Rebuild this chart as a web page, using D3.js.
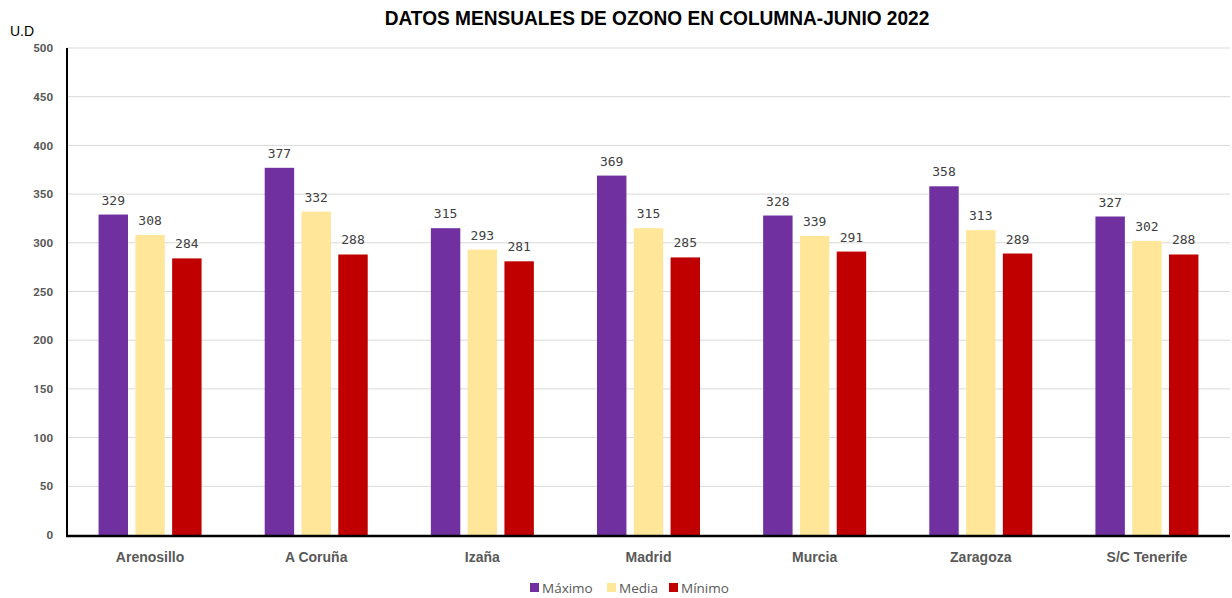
<!DOCTYPE html>
<html>
<head>
<meta charset="utf-8">
<script src="https://cdn.jsdelivr.net/npm/d3@7"></script>
<style>
  body { margin: 0; background: #fff; }
  svg { display: block; }
</style>
</head>
<body>
<svg id="chart"></svg>
<script>
let width = 1232,
    height = 598;

// datos
let stations = ["Arenosillo", "A Coruña", "Izaña", "Madrid", "Murcia", "Zaragoza", "S/C Tenerife"];
let maximo = [329, 377, 315, 369, 328, 358, 327];
let media = [308, 332, 293, 315, 307, 313, 302];
let minimo = [284, 288, 281, 285, 291, 289, 288];
// etiquetas tal y como aparecen (Murcia media dice 339)
let mediaLabels = ["308", "332", "293", "315", "339", "313", "302"];
let seriesNames = ["Máximo", "Media", "Mínimo"];
let yTicks = [0, 50, 100, 150, 200, 250, 300, 350, 400, 450, 500];

let colors = ["#7030a0", "#ffe699", "#c00000"];

let margin = {top: 48, right: 2, bottom: 63, left: 67};

let svg = d3.select('#chart')
    .attr('width', width)
    .attr('height', height);

let x = d3.scaleBand()
    .domain(stations)
    .range([margin.left, width - margin.right]);

let xs = d3.scaleBand()
    .domain(seriesNames)
    .range([0, 103])
    .paddingInner(0.2);

let y = d3.scaleLinear()
    .domain([0, 500])
    .range([height - margin.bottom, margin.top]);

// gridlines
svg.append('g')
    .selectAll('line')
    .data(yTicks.slice(1))
    .enter().append('line')
    .attr('x1', margin.left)
    .attr('x2', width - margin.right)
    .attr('y1', d => y(d))
    .attr('y2', d => y(d))
    .style('stroke', '#d9d9d9')
    .style('stroke-width', 1);

// y axis labels
let yAxis = svg.append('g')
    .attr('transform', 'translate(' + margin.left + ',0)')
    .call(d3.axisLeft(y).tickValues(yTicks).tickSize(0).tickPadding(14));
yAxis.select('.domain').remove();
yAxis.selectAll('text')
    .style('font-family', 'Roboto, Arial, sans-serif')
    .style('font-weight', 'bold')
    .style('font-size', '11.5px')
    .style('fill', '#595959');

let table = stations.map(function(s, i) {
    return {
        station: s,
        vals: [
            {name: seriesNames[0], value: maximo[i], label: String(maximo[i])},
            {name: seriesNames[1], value: media[i], label: mediaLabels[i]},
            {name: seriesNames[2], value: minimo[i], label: String(minimo[i])}
        ]
    };
});

let groups = svg.selectAll('g.station')
    .data(table)
    .enter().append('g')
    .attr('class', 'station')
    .attr('transform', d => 'translate(' + (x(d.station) + (x.bandwidth() - 103) / 2) + ',0)');

groups.selectAll('rect')
    .data(d => d.vals)
    .enter().append('rect')
    .attr('x', d => xs(d.name))
    .attr('width', xs.bandwidth())
    .attr('y', d => y(d.value))
    .attr('height', d => y(0) - y(d.value))
    .style('fill', (d, i) => colors[i]);

groups.selectAll('text')
    .data(d => d.vals)
    .enter().append('text')
    .attr('x', d => xs(d.name) + xs.bandwidth() / 2)
    .attr('y', d => y(d.value) - 10)
    .attr('text-anchor', 'middle')
    .style('font-family', '"DejaVu Sans Mono", monospace')
    .style('font-size', '13px')
    .style('fill', '#404040')
    .text(d => d.label);

// axes lines
svg.append('line')
    .attr('x1', margin.left)
    .attr('x2', margin.left)
    .attr('y1', margin.top)
    .attr('y2', y(0))
    .style('stroke', '#000')
    .style('stroke-width', 2);

svg.append('line')
    .attr('x1', margin.left - 1)
    .attr('x2', width - margin.right)
    .attr('y1', y(0) + 1)
    .attr('y2', y(0) + 1)
    .style('stroke', '#000')
    .style('stroke-width', 2.5);

// category labels
svg.append('g')
    .selectAll('text')
    .data(stations)
    .enter().append('text')
    .attr('x', d => x(d) + x.bandwidth() / 2)
    .attr('y', 562)
    .attr('text-anchor', 'middle')
    .style('font-family', '"Liberation Sans", Arial, sans-serif')
    .style('font-weight', 'bold')
    .style('font-size', '14px')
    .style('fill', '#595959')
    .text(d => d);

// title (letra estrecha)
svg.append('text')
    .attr('transform', 'translate(657,25) scale(0.91,1)')
    .attr('text-anchor', 'middle')
    .style('font-family', '"Liberation Sans", Arial, sans-serif')
    .style('font-weight', 'bold')
    .style('font-size', '21px')
    .style('fill', '#000')
    .text('DATOS MENSUALES DE OZONO EN COLUMNA-JUNIO 2022');

svg.append('text')
    .attr('x', 10)
    .attr('y', 36)
    .style('font-family', '"Liberation Sans", Arial, sans-serif')
    .style('font-size', '14px')
    .style('fill', '#000')
    .text('U.D');

// legend
let legendX = [530, 607, 669];
let legend = svg.append('g')
    .selectAll('g')
    .data(seriesNames)
    .enter().append('g')
    .attr('transform', (d, i) => 'translate(' + legendX[i] + ',583)');

legend.append('rect')
    .attr('width', 9)
    .attr('height', 9)
    .style('fill', (d, i) => colors[i]);

legend.append('text')
    .attr('x', 12)
    .attr('y', 10)
    .style('font-family', '"Open Sans", "Noto Sans", sans-serif')
    .style('font-size', '13.5px')
    .style('fill', '#595959')
    .text(d => d);
</script>
</body>
</html>
